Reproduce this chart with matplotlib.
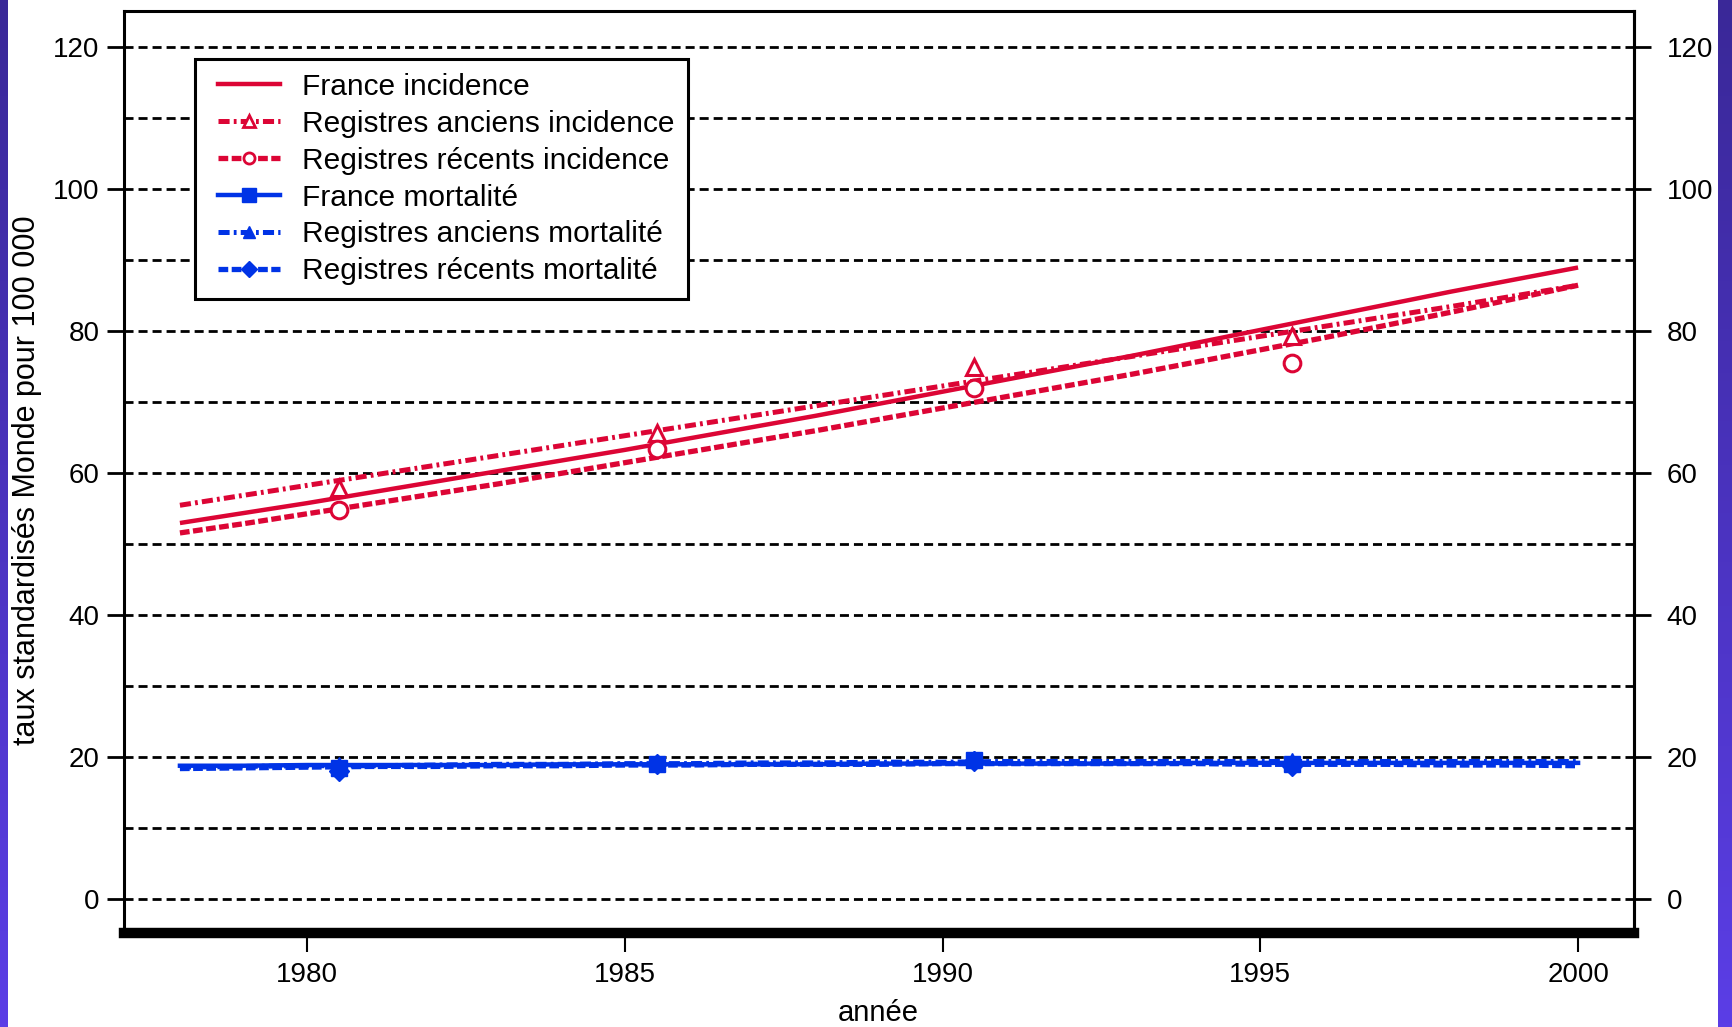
import numpy as np
import matplotlib
matplotlib.use("Agg")
import matplotlib.pyplot as plt
from matplotlib.lines import Line2D
from matplotlib.legend_handler import HandlerLine2D

plt.rcParams['font.family'] = ['Liberation Sans', 'DejaVu Sans']
plt.rcParams['lines.scale_dashes'] = False

# data
years = list(range(1978, 2001))
obs_years = [1980.5, 1985.5, 1990.5, 1995.5]

france_inc = [53.0, 54.4, 55.8, 57.3, 58.8, 60.3, 61.8, 63.3, 64.9, 66.5, 68.1, 69.8,
              71.5, 73.2, 74.9, 76.6, 78.4, 80.2, 82.0, 83.8, 85.6, 87.3, 89.0]
anciens_inc = [55.5, 56.9, 58.3, 59.7, 61.1, 62.5, 63.9, 65.3, 66.7, 68.1, 69.5, 70.9,
               72.3, 73.7, 75.1, 76.5, 77.9, 79.3, 80.7, 82.1, 83.5, 85.0, 86.5]
recents_inc = [51.6, 52.9, 54.3, 55.7, 57.1, 58.5, 60.0, 61.5, 63.0, 64.5, 66.0, 67.6,
               69.2, 70.8, 72.4, 74.0, 75.7, 77.4, 79.1, 80.9, 82.7, 84.6, 86.5]
france_mort = [18.8, 18.8, 18.9, 18.9, 18.9, 18.9, 19.0, 19.0, 19.0, 19.0, 19.0, 19.1,
               19.1, 19.1, 19.1, 19.1, 19.2, 19.2, 19.2, 19.2, 19.2, 19.2, 19.2]
anciens_mort = [18.6, 18.7, 18.8, 18.8, 18.9, 19.0, 19.0, 19.1, 19.1, 19.2, 19.2, 19.3,
                19.3, 19.4, 19.4, 19.4, 19.4, 19.4, 19.4, 19.4, 19.4, 19.4, 19.4]
recents_mort = [18.4, 18.5, 18.6, 18.7, 18.7, 18.8, 18.8, 18.9, 18.9, 19.0, 19.0, 19.0,
                19.1, 19.1, 19.1, 19.1, 19.1, 19.0, 19.0, 19.0, 18.9, 18.9, 18.8]

anciens_inc_pts = [58.0, 65.7, 75.0, 79.3]
recents_inc_pts = [54.8, 63.4, 72.0, 75.5]
france_mort_pts = [18.5, 19.0, 19.6, 19.0]
anciens_mort_pts = [18.9, 19.2, 19.8, 19.4]
recents_mort_pts = [18.0, 19.0, 19.4, 18.8]

labels = ['France incidence', 'Registres anciens incidence', 'Registres r\u00e9cents incidence',
          'France mortalit\u00e9', 'Registres anciens mortalit\u00e9', 'Registres r\u00e9cents mortalit\u00e9']

red = '#dc0535'
blue = '#0033e6'
dashdot = (0, (8, 3, 2, 3))
dashed = (0, (7, 2.5))

fig = plt.figure(figsize=(17.32, 10.27), dpi=100)
fig.patch.set_facecolor('white')

# purple side strips
grad = np.linspace(0, 1, 256).reshape(-1, 1)
purple = matplotlib.colors.LinearSegmentedColormap.from_list('p', ['#3a2898', '#5b3ee6'])
for rect in ([0, 0, 7 / 1732, 1], [1718 / 1732, 0, 14 / 1732, 1]):
    bx = fig.add_axes(rect)
    bx.imshow(grad, aspect='auto', cmap=purple, origin='upper')
    bx.axis('off')

ax = fig.add_axes([124 / 1732, 0.092, 1510 / 1732, 0.897])

ax.plot(years, france_inc, color=red, lw=3.2, solid_capstyle='butt')
ax.plot(years, anciens_inc, color=red, lw=3.6, linestyle=dashdot)
ax.plot(years, recents_inc, color=red, lw=3.8, linestyle=dashed)
ax.plot(obs_years, anciens_inc_pts, ls='none', marker='^', ms=11, mfc='white', mec=red, mew=2.2)
ax.plot(obs_years, recents_inc_pts, ls='none', marker='o', ms=12, mfc='white', mec=red, mew=2.2)

ax.plot(years, france_mort, color=blue, lw=3.2)
ax.plot(years, anciens_mort, color=blue, lw=3.6, linestyle=dashdot)
ax.plot(years, recents_mort, color=blue, lw=3.8, linestyle=dashed)
ax.plot(obs_years, france_mort_pts, ls='none', marker='s', ms=12, color=blue)
ax.plot(obs_years, anciens_mort_pts, ls='none', marker='^', ms=11, color=blue)
ax.plot(obs_years, recents_mort_pts, ls='none', marker='D', ms=10, color=blue)

ax.set_xlim(1977.12, 2000.88)
ax.set_ylim(-4.7, 125.1)
ax.set_xticks([1980, 1985, 1990, 1995, 2000])
yticks = [0, 20, 40, 60, 80, 100, 120]
ax.set_yticks(yticks)
ax.set_yticks([10, 30, 50, 70, 90, 110], minor=True)

ax.grid(axis='y', which='both', color='black', lw=2.0, linestyle=(0, (6.5, 3.6)))
ax.set_axisbelow(True)

ax.tick_params(axis='y', which='major', direction='out', length=12.5, width=2,
               labelsize=20, pad=5)
ax.tick_params(axis='y', which='minor', length=0)
ax.tick_params(axis='x', direction='out', length=13.5, width=1.5, labelsize=20, pad=8)

sec = ax.secondary_yaxis('right')
sec.set_yticks(yticks)
sec.tick_params(axis='y', direction='out', length=12.5, width=2, labelsize=20, pad=11)
sec.spines['right'].set_linewidth(2.2)

for s in ['left', 'right', 'top']:
    ax.spines[s].set_linewidth(2.2)
ax.spines['bottom'].set_linewidth(7.5)

fig.text(27 / 1732, 1 - 480 / 1027, 'taux standardis\u00e9s Monde pour 100 000',
         rotation=90, fontsize=22, ha='center', va='center')
fig.text(878 / 1732, 1 - 1013 / 1027, 'ann\u00e9e', fontsize=21, ha='center', va='center')

handles = [
    Line2D([], [], color=red, lw=3.2),
    Line2D([], [], color=red, lw=3.6, linestyle=dashdot, marker='^', ms=8, mfc='white', mec=red, mew=2),
    Line2D([], [], color=red, lw=3.8, linestyle=dashed, marker='o', ms=8, mfc='white', mec=red, mew=2),
    Line2D([], [], color=blue, lw=3.2, marker='s', ms=10),
    Line2D([], [], color=blue, lw=3.6, linestyle=dashdot, marker='^', ms=9),
    Line2D([], [], color=blue, lw=3.8, linestyle=dashed, marker='D', ms=8),
]
leg = ax.legend(handles, labels, loc='upper left', bbox_to_anchor=(0.047, 0.948),
                borderaxespad=0, fontsize=21.5, frameon=True, fancybox=False,
                edgecolor='black', framealpha=1, handlelength=2.4, handletextpad=0.74,
                labelspacing=0.3, borderpad=0.45, numpoints=1,
                handler_map={Line2D: HandlerLine2D(xpad=0.32)})
leg.get_frame().set_linewidth(2.2)

fig.savefig('out.png', dpi=100)
